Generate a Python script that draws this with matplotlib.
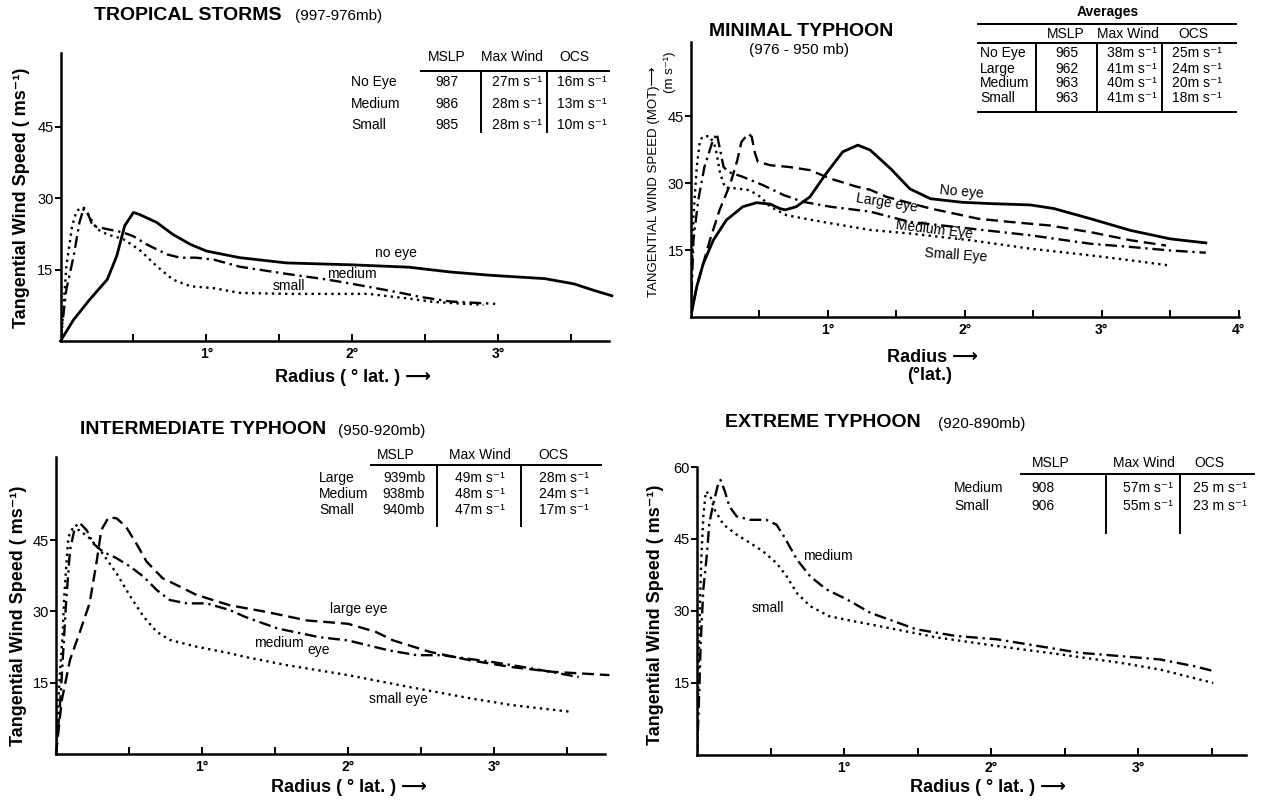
import numpy as np
import matplotlib.pyplot as plt
from matplotlib.lines import Line2D

plt.rcParams['font.family'] = ['Liberation Sans', 'DejaVu Sans']

W, H = 1262, 802

# ---- data (radius in deg lat, tangential wind in m/s) ----
# Tropical storms
ts_noeye_r = [0, 0.088, 0.2, 0.32, 0.385, 0.44, 0.5, 0.54, 0.66, 0.77, 0.89, 1.0, 1.23, 1.55, 2.0, 2.39, 2.67, 2.95, 3.32, 3.52, 3.66, 3.78]
ts_noeye_v = [0, 4.4, 8.7, 12.9, 17.8, 24.2, 27.0, 26.6, 24.9, 22.4, 20.3, 18.9, 17.5, 16.4, 16.0, 15.5, 14.5, 13.8, 13.1, 12.0, 10.6, 9.5]
ts_med_r = [0, 0.01, 0.04, 0.09, 0.13, 0.16, 0.19, 0.22, 0.32, 0.43, 0.50, 0.59, 0.73, 0.82, 0.93, 1.05, 1.23, 1.55, 1.83, 2.0, 2.25, 2.48, 2.67, 2.98]
ts_med_v = [0, 3.0, 10.8, 17.8, 24.9, 28.0, 26.6, 24.2, 23.5, 22.8, 22.0, 20.3, 18.2, 17.5, 17.5, 17.1, 15.6, 14.1, 12.9, 12.0, 10.6, 9.2, 8.3, 7.8]
ts_small_r = [0, 0.01, 0.04, 0.08, 0.11, 0.145, 0.19, 0.25, 0.32, 0.43, 0.54, 0.66, 0.77, 0.89, 1.05, 1.23, 1.55, 1.83, 2.11, 2.39, 2.56, 2.78, 2.9]
ts_small_v = [0, 2.3, 15.7, 24.2, 27.3, 28.0, 26.6, 23.5, 22.4, 21.4, 19.2, 15.7, 12.9, 11.5, 11.1, 10.1, 9.9, 9.9, 9.9, 8.9, 8.2, 7.8, 7.6]

# Minimal typhoon
mt_noeye_r = [0, 0.044, 0.092, 0.165, 0.26, 0.38, 0.48, 0.58, 0.65, 0.69, 0.77, 0.87, 0.99, 1.11, 1.22, 1.31, 1.46, 1.60, 1.75, 1.98, 2.19, 2.48, 2.65, 2.92, 3.21, 3.50, 3.76]
mt_noeye_v = [0, 6.8, 12.0, 17.2, 21.7, 24.7, 25.6, 25.3, 24.3, 24.0, 24.7, 26.9, 32.2, 37.0, 38.5, 37.4, 33.2, 28.7, 26.5, 25.7, 25.4, 25.1, 24.3, 22.0, 19.4, 17.5, 16.6]
mt_large_r = [0, 0.044, 0.092, 0.14, 0.21, 0.29, 0.34, 0.37, 0.42, 0.445, 0.47, 0.49, 0.58, 0.72, 0.87, 1.02, 1.21, 1.31, 1.43, 1.75, 1.98, 2.10, 2.33, 2.62, 2.92, 3.21, 3.47]
mt_large_v = [0, 6.8, 12.0, 17.2, 23.9, 29.9, 35.1, 39.2, 41.1, 40.4, 36.6, 34.8, 34.0, 33.6, 32.9, 31.0, 29.2, 28.5, 26.9, 24.3, 22.8, 22.0, 21.3, 20.5, 19.0, 17.2, 16.0]
mt_med_r = [0, 0.02, 0.055, 0.10, 0.155, 0.19, 0.215, 0.24, 0.275, 0.38, 0.53, 0.68, 0.82, 1.02, 1.31, 1.60, 2.04, 2.48, 2.92, 3.21, 3.50, 3.76]
mt_med_v = [0, 17.2, 26.2, 33.6, 38.9, 41.1, 37.4, 33.6, 32.5, 31.4, 29.5, 27.3, 25.8, 24.7, 23.6, 21.3, 19.8, 18.3, 16.4, 15.7, 14.9, 14.4]
mt_small_r = [0, 0.02, 0.044, 0.068, 0.092, 0.14, 0.18, 0.215, 0.25, 0.335, 0.43, 0.51, 0.58, 0.70, 0.82, 1.02, 1.31, 1.60, 2.04, 2.48, 2.92, 3.21, 3.48]
mt_small_v = [0, 22.4, 33.6, 39.6, 40.5, 40.5, 38.1, 32.2, 29.0, 28.8, 28.4, 26.9, 24.7, 22.8, 22.1, 21.0, 19.5, 18.7, 17.2, 15.3, 13.8, 12.7, 11.6]

# Intermediate typhoon
it_large_r = [0, 0.04, 0.096, 0.16, 0.23, 0.28, 0.31, 0.36, 0.415, 0.48, 0.55, 0.62, 0.73, 0.85, 0.96, 1.19, 1.44, 1.72, 2.0, 2.19, 2.31, 2.56, 2.84, 3.12, 3.40, 3.79]
it_large_v = [0, 11.4, 19.8, 25.4, 31.7, 40.8, 47.1, 49.8, 49.6, 47.8, 44.3, 40.5, 37.0, 35.2, 33.5, 31.3, 29.9, 28.1, 27.4, 25.7, 23.9, 21.5, 19.7, 18.3, 17.3, 16.6]
it_med_r = [0, 0.03, 0.05, 0.07, 0.096, 0.13, 0.16, 0.21, 0.255, 0.32, 0.415, 0.51, 0.60, 0.69, 0.78, 0.895, 1.03, 1.19, 1.30, 1.52, 1.80, 2.0, 2.28, 2.47, 2.64, 2.98, 3.26, 3.58]
it_med_v = [0, 11.4, 21.9, 32.4, 42.9, 47.8, 48.7, 47.1, 44.3, 42.6, 41.2, 39.4, 37.3, 34.5, 32.4, 31.7, 31.7, 30.3, 28.8, 26.4, 24.6, 23.9, 21.8, 20.8, 20.8, 19.4, 18.0, 16.2]
it_small_r = [0, 0.016, 0.03, 0.046, 0.055, 0.07, 0.085, 0.11, 0.16, 0.23, 0.31, 0.415, 0.51, 0.60, 0.69, 0.78, 0.96, 1.19, 1.30, 1.58, 2.0, 2.42, 2.84, 3.12, 3.52]
it_small_v = [0, 11.4, 18.4, 25.4, 32.4, 39.4, 45.7, 47.3, 47.1, 45.4, 42.6, 38.0, 33.1, 28.9, 25.7, 24.0, 22.6, 21.2, 20.4, 18.7, 16.6, 14.1, 11.7, 10.3, 8.9]

# Extreme typhoon
et_med_r = [0, 0.016, 0.025, 0.043, 0.066, 0.084, 0.11, 0.14, 0.16, 0.19, 0.22, 0.27, 0.36, 0.47, 0.54, 0.59, 0.68, 0.77, 0.88, 1.02, 1.18, 1.49, 1.76, 2.04, 2.32, 2.60, 2.88, 3.15, 3.38, 3.51]
et_med_v = [0, 13.6, 23.3, 34.5, 41.4, 48.3, 52.2, 56.0, 57.3, 54.9, 51.8, 49.7, 49.0, 49.0, 48.0, 45.6, 40.7, 37.2, 34.5, 32.4, 29.6, 26.2, 24.8, 24.1, 22.7, 21.3, 20.6, 19.9, 18.5, 17.5]
et_small_r = [0, 0.01, 0.02, 0.03, 0.043, 0.06, 0.088, 0.12, 0.18, 0.27, 0.36, 0.45, 0.54, 0.61, 0.68, 0.77, 0.90, 1.06, 1.18, 1.63, 2.04, 2.46, 2.88, 3.15, 3.51]
et_small_v = [0, 17.1, 31.0, 41.4, 49.7, 54.9, 54.2, 51.1, 48.0, 45.9, 44.2, 42.4, 40.0, 37.2, 33.7, 31.0, 28.9, 27.9, 27.2, 24.5, 22.7, 21.0, 19.2, 17.8, 15.0]

# ---- tables ----
ts_rows = ['No Eye', 'Medium', 'Small']
ts_mslp = ['987', '986', '985']
ts_wind = ['27m s⁻¹', '28m s⁻¹', '28m s⁻¹']
ts_ocs = ['16m s⁻¹', '13m s⁻¹', '10m s⁻¹']

mt_rows = ['No Eye', 'Large', 'Medium', 'Small']
mt_mslp = ['965', '962', '963', '963']
mt_wind = ['38m s⁻¹', '41m s⁻¹', '40m s⁻¹', '41m s⁻¹']
mt_ocs = ['25m s⁻¹', '24m s⁻¹', '20m s⁻¹', '18m s⁻¹']

it_rows = ['Large', 'Medium', 'Small']
it_mslp = ['939mb', '938mb', '940mb']
it_wind = ['49m s⁻¹', '48m s⁻¹', '47m s⁻¹']
it_ocs = ['28m s⁻¹', '24m s⁻¹', '17m s⁻¹']

et_rows = ['Medium', 'Small']
et_mslp = ['908', '906']
et_wind = ['57m s⁻¹', '55m s⁻¹']
et_ocs = ['25 m s⁻¹', '23 m s⁻¹']

SOLID = '-'
DASH = (0, (5, 2.5))
DASHDOT = (0, (5, 2, 1, 2))
DOT = (0, (1, 1.8))

fig = plt.figure(figsize=(W / 100, H / 100), dpi=100)


def fx(x):
    return x / W


def fy(y):
    return 1 - y / H


def put(x, y, s, size=10, weight='normal', ha='left', va='center', rot=0):
    fig.text(fx(x), fy(y), s, fontsize=size, fontweight=weight, ha=ha, va=va,
             rotation=rot, rotation_mode='anchor')


def hline(y, x0, x1, lw=1.4):
    fig.add_artist(Line2D([fx(x0), fx(x1)], [fy(y), fy(y)], color='k', lw=lw))


def vline(x, y0, y1, lw=1.4):
    fig.add_artist(Line2D([fx(x), fx(x)], [fy(y0), fy(y1)], color='k', lw=lw))


def panel(l, t, r, b, xmax, ymax, yticks, xticks):
    ax = fig.add_axes([fx(l), fy(b), (r - l) / W, (b - t) / H])
    ax.set_xlim(0, xmax)
    ax.set_ylim(0, ymax)
    for s in ['top', 'right']:
        ax.spines[s].set_visible(False)
    for s in ['left', 'bottom']:
        ax.spines[s].set_linewidth(1.8)
    ax.set_yticks(yticks)
    ax.set_yticklabels([str(v) for v in yticks], fontsize=10.5)
    ax.set_xticks(xticks)
    ax.set_xticklabels([f'{v}°' for v in xticks], fontsize=10, fontweight='bold')
    ax.set_xticks(np.arange(0.5, xmax, 1.0), minor=True)
    ax.tick_params(axis='y', direction='out', length=4, width=1.4, pad=1)
    ax.tick_params(axis='x', which='both', direction='in', length=5, width=1.4, pad=4)
    ax.patch.set_alpha(0)
    return ax


# ---------------- Panel 1: tropical storms ----------------
ax1 = panel(60.5, 53, 609, 341, 3.76, 60.5, [15, 30, 45], [1, 2, 3])
ax1.plot(ts_noeye_r, ts_noeye_v, color='k', lw=2.0, ls=SOLID, clip_on=False)
ax1.plot(ts_med_r, ts_med_v, color='k', lw=1.7, ls=DASHDOT)
ax1.plot(ts_small_r, ts_small_v, color='k', lw=1.7, ls=DOT)
put(94, 15, 'TROPICAL STORMS', 14, 'bold')
put(295, 16, '(997-976mb)', 11)
put(22, 198, 'Tangential Wind Speed ( ms⁻¹)', 13, 'bold', ha='center', rot=90)
put(353, 377, 'Radius ( ° lat. ) ⟶', 13, 'bold', ha='center')
put(396, 253, 'no eye', 10, ha='center')
put(352, 274, 'medium', 10, ha='center')
put(289, 286, 'small', 10, ha='center')

for x, s in zip([447, 512, 574], ['MSLP', 'Max Wind', 'OCS']):
    put(x, 57, s, 10, ha='center')
hline(71, 421, 609)
vline(480.5, 71, 132)
vline(546.5, 71, 132)
for i, y in enumerate([82, 104, 125]):
    put(351, y, ts_rows[i], 10)
    put(447, y, ts_mslp[i], 10, ha='center')
    put(517, y, ts_wind[i], 10, ha='center')
    put(582, y, ts_ocs[i], 10, ha='center')

# ---------------- Panel 2: minimal typhoon ----------------
ax2 = panel(690.7, 42, 1238.7, 317, 4.0, 61.6, [15, 30, 45], [1, 2, 3, 4])
ax2.plot(mt_noeye_r, mt_noeye_v, color='k', lw=2.0, ls=SOLID)
ax2.plot(mt_large_r, mt_large_v, color='k', lw=1.7, ls=DASH)
ax2.plot(mt_med_r, mt_med_v, color='k', lw=1.7, ls=DASHDOT)
ax2.plot(mt_small_r, mt_small_v, color='k', lw=1.7, ls=DOT)
put(801, 32, 'MINIMAL TYPHOON', 14, 'bold', ha='center')
put(799, 50, '(976 - 950 mb)', 11, ha='center')
put(654, 182, 'TANGENTIAL WIND SPEED (MOT)⟶', 9.5, ha='center', rot=90)
put(670, 72, '(m s⁻¹)', 9.5, ha='center', rot=90)
put(932, 357, 'Radius ⟶', 13, 'bold', ha='center')
put(930, 376, '(°lat.)', 13, 'bold', ha='center')
put(962, 192, 'No eye', 10, ha='center', rot=-5)
put(887, 203, 'Large eye', 10, ha='center', rot=-9)
put(934, 230, 'Medium Eye', 10, ha='center', rot=-7)
put(956, 255, 'Small Eye', 10, ha='center', rot=-4)

put(1108, 12, 'Averages', 10, 'bold', ha='center')
hline(24, 978, 1236)
for x, s in zip([1066, 1128, 1193], ['MSLP', 'Max Wind', 'OCS']):
    put(x, 34, s, 10, ha='center')
hline(43, 978, 1236)
hline(112, 978, 1236)
for x in [1036, 1097, 1162]:
    vline(x, 43, 112)
for i, y in enumerate([53, 69, 83, 98]):
    put(980, y, mt_rows[i], 10)
    put(1067, y, mt_mslp[i], 10, ha='center')
    put(1132, y, mt_wind[i], 10, ha='center')
    put(1197, y, mt_ocs[i], 10, ha='center')

# ---------------- Panel 3: intermediate typhoon ----------------
ax3 = panel(56, 457, 605, 754, 3.76, 62.5, [15, 30, 45], [1, 2, 3])
ax3.plot(it_large_r, it_large_v, color='k', lw=1.7, ls=DASH, clip_on=False)
ax3.plot(it_med_r, it_med_v, color='k', lw=1.7, ls=DASHDOT)
ax3.plot(it_small_r, it_small_v, color='k', lw=1.7, ls=DOT)
put(80, 430, 'INTERMEDIATE TYPHOON', 14, 'bold')
put(338, 431, '(950-920mb)', 11)
put(18.5, 616, 'Tangential Wind Speed ( ms⁻¹)', 13, 'bold', ha='center', rot=90)
put(348.5, 788, 'Radius ( ° lat. ) ⟶', 13, 'bold', ha='center')
put(359, 609, 'large eye', 10, ha='center')
put(279, 643, 'medium', 10, ha='center')
put(319, 650, 'eye', 10, ha='center')
put(398, 699, 'small eye', 10, ha='center')

for x, s in zip([396, 480, 553.5], ['MSLP', 'Max Wind', 'OCS']):
    put(x, 455, s, 10, ha='center')
hline(465, 371, 601)
vline(437, 465, 526)
vline(521, 465, 526)
for i, y in enumerate([478, 494, 510]):
    put(319, y, it_rows[i], 10)
    put(404, y, it_mslp[i], 10, ha='center')
    put(480, y, it_wind[i], 10, ha='center')
    put(564, y, it_ocs[i], 10, ha='center')

# ---------------- Panel 4: extreme typhoon ----------------
ax4 = panel(697, 467, 1245.6, 755, 3.73, 60, [15, 30, 45, 60], [1, 2, 3])
ax4.plot(et_med_r, et_med_v, color='k', lw=1.7, ls=DASHDOT)
ax4.plot(et_small_r, et_small_v, color='k', lw=1.7, ls=DOT)
put(725, 423, 'EXTREME TYPHOON', 14, 'bold')
put(938, 424, '(920-890mb)', 11)
put(656, 615, 'Tangential Wind Speed ( ms⁻¹)', 13, 'bold', ha='center', rot=90)
put(988, 788, 'Radius ( ° lat. ) ⟶', 13, 'bold', ha='center')
put(828, 556, 'medium', 10, ha='center')
put(768, 608, 'small', 10, ha='center')

for x, s in zip([1051, 1144, 1209], ['MSLP', 'Max Wind', 'OCS']):
    put(x, 463, s, 10, ha='center')
hline(474, 1021, 1254)
vline(1106, 474, 533)
vline(1180, 474, 533)
for i, y in enumerate([488, 506]):
    put(954, y, et_rows[i], 10)
    put(1031, y, et_mslp[i], 10)
    put(1173, y, et_wind[i], 10, ha='right')
    put(1193, y, et_ocs[i], 10)

fig.savefig('out.png', dpi=100, facecolor='white')
